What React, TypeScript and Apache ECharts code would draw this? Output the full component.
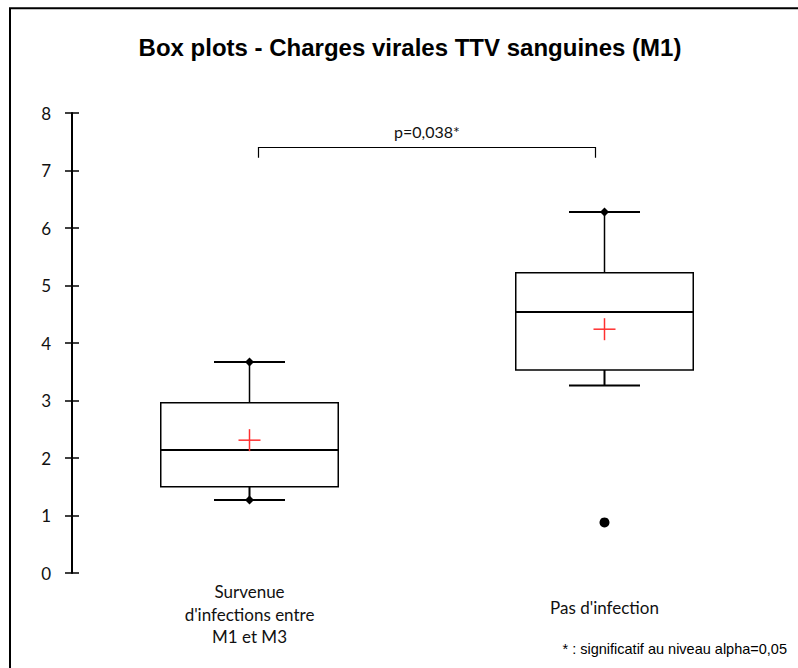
import React, { useEffect, useRef } from "react";
import * as echarts from "echarts";

const categories = ["Survenue\nd'infections entre\nM1 et M3", "Pas d'infection"];
// [lower whisker, Q1, median, Q3, upper whisker, mean]
const lowWhisker = [1.27, 3.26];
const q1 = [1.5, 3.53];
const median = [2.14, 4.54];
const q3 = [2.96, 5.22];
const highWhisker = [3.67, 6.28];
const means = [2.31, 4.24];
const minMaxPoints: [number, number][] = [[0, 1.27], [0, 3.67], [1, 6.28]];
const outliers: [number, number][] = [[1, 0.88]];
const yTicks = [0, 8, 1];
const pValueText = "p=0,038*";
const bracketLevels = [7.4, 7.22];
const titleText = "Box plots - Charges virales TTV sanguines (M1)";
const footnote = "* : significatif au niveau alpha=0,05";

export default function App() {
  const ref = useRef<HTMLDivElement>(null);
  useEffect(() => {
    if (!ref.current) return;
    const chart = echarts.init(ref.current, undefined, { renderer: "svg" });
    const boxData = categories.map((_, i) => [i, lowWhisker[i], q1[i], median[i], q3[i], highWhisker[i], means[i]]);
    const option: any = {
      animation: false,
      backgroundColor: "#ffffff",
      grid: { left: 72, right: 16, top: 113, bottom: 95 },
      xAxis: {
        type: "category",
        data: categories,
        boundaryGap: true,
        axisLine: { show: false },
        axisTick: { show: false },
        axisLabel: {
          margin: 41,
          verticalAlign: "middle",
          fontFamily: "Lato",
          fontSize: 17,
          color: "#111",
          lineHeight: 22.5,
          formatter: (v: string, i: number) => (i === 1 ? "{b|" + v + "}" : v),
          rich: { b: { fontFamily: "Lato", fontSize: 17, color: "#111", padding: [0, 0, 14, 0] } },
        },
        splitLine: { show: false },
      },
      yAxis: [
        {
          type: "value",
          min: yTicks[0],
          max: yTicks[1],
          interval: yTicks[2],
          axisLine: { show: true, lineStyle: { color: "#000", width: 2 } },
          axisTick: { show: true, length: 7, lineStyle: { color: "#000", width: 1.5 } },
          axisLabel: { margin: 21, fontFamily: "Lato", fontSize: 17, color: "#111" },
          splitLine: { show: false },
        },
        {
          type: "value",
          position: "left",
          min: yTicks[0],
          max: yTicks[1],
          interval: yTicks[2],
          axisLine: { show: false },
          axisTick: { show: true, inside: true, length: 7, lineStyle: { color: "#000", width: 1.5 } },
          axisLabel: { show: false },
          splitLine: { show: false },
        },
      ],
      series: [
        {
          type: "custom",
          name: "box",
          data: boxData,
          renderItem: (params: any, api: any) => {
            const cx = api.coord([api.value(0), 0])[0];
            const band = api.size([1, 0])[0];
            const hw = band * 0.25;
            const cw = band * 0.1;
            const y = (v: number) => api.coord([api.value(0), v])[1];
            const lo = y(api.value(1));
            const b1 = y(api.value(2));
            const md = y(api.value(3));
            const b3 = y(api.value(4));
            const hi = y(api.value(5));
            const mn = y(api.value(6));
            const black = { stroke: "#000", lineWidth: 1.5 };
            return {
              type: "group",
              children: [
                { type: "line", shape: { x1: cx, y1: hi, x2: cx, y2: b3 }, style: black },
                { type: "line", shape: { x1: cx, y1: b1, x2: cx, y2: lo }, style: { stroke: "#000", lineWidth: 2 } },
                { type: "line", shape: { x1: cx - cw, y1: hi, x2: cx + cw, y2: hi }, style: { stroke: "#000", lineWidth: 2 } },
                { type: "line", shape: { x1: cx - cw, y1: lo, x2: cx + cw, y2: lo }, style: { stroke: "#000", lineWidth: 2 } },
                { type: "rect", shape: { x: cx - hw, y: b3, width: 2 * hw, height: b1 - b3 }, style: { fill: "#fff", stroke: "#000", lineWidth: 1.5 } },
                { type: "line", shape: { x1: cx - hw, y1: md, x2: cx + hw, y2: md }, style: { stroke: "#000", lineWidth: 2 } },
                { type: "line", shape: { x1: cx - 11, y1: mn, x2: cx + 11, y2: mn }, style: { stroke: "#ff3030", lineWidth: 1.5 } },
                { type: "line", shape: { x1: cx, y1: mn - 11, x2: cx, y2: mn + 11 }, style: { stroke: "#ff3030", lineWidth: 1.5 } },
              ],
            };
          },
          z: 2,
        },
        {
          type: "scatter",
          name: "minmax",
          data: minMaxPoints,
          symbol: "diamond",
          symbolSize: 9,
          itemStyle: { color: "#000", opacity: 1 },
          z: 3,
        },
        {
          type: "scatter",
          name: "outliers",
          data: outliers,
          symbol: "circle",
          symbolSize: 10,
          itemStyle: { color: "#000", opacity: 1 },
          z: 3,
        },
        {
          type: "custom",
          name: "bracket",
          data: [[0, bracketLevels[0], bracketLevels[1]]],
          renderItem: (params: any, api: any) => {
            const x0 = api.coord([0, 0])[0] + 9;
            const x1 = api.coord([1, 0])[0] - 9;
            const yTop = api.coord([0, api.value(1)])[1];
            const yLeg = api.coord([0, api.value(2)])[1];
            return {
              type: "group",
              children: [
                { type: "polyline", shape: { points: [[x0, yLeg], [x0, yTop], [x1, yTop], [x1, yLeg]] }, style: { stroke: "#000", lineWidth: 1.2, fill: null } },
                { type: "text", x: (x0 + x1) / 2, y: yTop - 8, style: { text: pValueText, fontFamily: "Lato", fontSize: 16, fill: "#111", align: "center", verticalAlign: "bottom" } },
              ],
            };
          },
          z: 2,
        },
      ],
      graphic: [
        { type: "rect", shape: { x: 10, y: 8.3, width: 1000, height: 1000 }, style: { fill: "none", stroke: "#000", lineWidth: 2 }, silent: true },
        { type: "text", x: 410, y: 47, style: { text: titleText, fontFamily: "Liberation Sans", fontWeight: "bold", fontSize: 24, fill: "#000", align: "center", verticalAlign: "middle" } },
        { type: "text", x: 787, y: 649, style: { text: footnote, fontFamily: "Liberation Sans", fontSize: 14.5, fill: "#000", align: "right", verticalAlign: "middle" } },
      ],
    };
    chart.setOption(option);
    return () => chart.dispose();
  }, []);
  return <div ref={ref} style={{ position: "absolute", left: 0, top: 0, width: 798, height: 668, overflow: "hidden" }} />;
}
